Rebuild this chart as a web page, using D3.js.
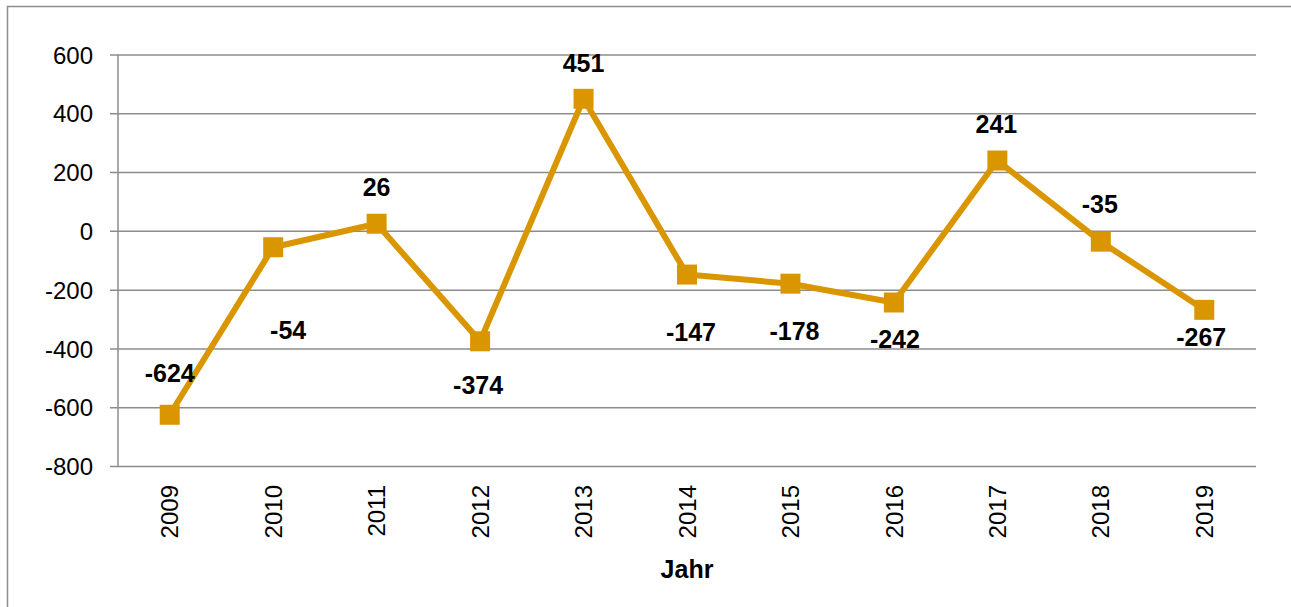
<!DOCTYPE html>
<html>
<head>
<meta charset="utf-8">
<script src="https://cdn.jsdelivr.net/npm/d3@7"></script>
<style>
  body { margin: 0; background: #fff; }
  svg text { font-family: "Liberation Sans", Arial, sans-serif; }
</style>
</head>
<body>
<div id="chart"><svg></svg></div>
<script>
// data
var years = ["2009", "2010", "2011", "2012", "2013", "2014", "2015", "2016", "2017", "2018", "2019"];
var values = [-624, -54, 26, -374, 451, -147, -178, -242, 241, -35, -267];
var yTicks = [-800, -600, -400, -200, 0, 200, 400, 600];

// where each value label sits relative to its marker (baseline offset)
var labelDx = [0, 15, 0, -2, 0, 4, 4, 1, -1, -1, -3];
var labelDy = [-33, 92, -28, 53, -27, 66, 56, 46, -28, -29, 36];

var width = 1291,
    height = 607,
    lineColor = "#da9600",
    gridColor = "#8c8c8c";

var svg = d3.select("#chart").select("svg")
    .attr("width", width)
    .attr("height", height);

// outer frame
svg.append("rect")
    .attr("x", 7.5).attr("y", 6.5)
    .attr("width", 1300).attr("height", 700)
    .attr("fill", "none")
    .attr("stroke", gridColor)
    .attr("stroke-width", 1.5);

var x = d3.scaleBand()
    .domain(years)
    .range([118, 1256]);

var y = d3.scaleLinear()
    .domain([-800, 600])
    .range([466.5, 55]);

// gridlines
svg.append("g")
    .selectAll("line")
    .data(yTicks)
    .enter()
        .append("line")
        .attr("x1", 110)
        .attr("x2", 1256)
        .attr("y1", d => y(d))
        .attr("y2", d => y(d))
        .attr("stroke", gridColor)
        .attr("stroke-width", 1.5);

// y axis line
svg.append("line")
    .attr("x1", 118).attr("x2", 118)
    .attr("y1", y(600)).attr("y2", y(-800))
    .attr("stroke", gridColor)
    .attr("stroke-width", 1.5);

// y tick labels
svg.append("g")
    .selectAll("text")
    .data(yTicks)
    .enter()
        .append("text")
        .attr("x", 93)
        .attr("y", d => y(d))
        .attr("dy", "0.36em")
        .attr("text-anchor", "end")
        .style("font-size", "24px")
        .style("fill", "#000")
        .text(d => d);

// x tick labels, rotated
svg.append("g")
    .selectAll("text")
    .data(years)
    .enter()
        .append("text")
        .attr("transform", d => "translate(" + (x(d) + x.bandwidth() / 2) + ",485) rotate(-90)")
        .attr("dy", "0.36em")
        .attr("text-anchor", "end")
        .style("font-size", "24px")
        .style("fill", "#000")
        .text(d => d);

// axis title
svg.append("text")
    .attr("x", 687)
    .attr("y", 578)
    .attr("text-anchor", "middle")
    .style("font-size", "25px")
    .style("font-weight", "bold")
    .style("fill", "#000")
    .text("Jahr");

var points = years.map((d, i) => ({ year: d, value: values[i], i: i }));

var line = d3.line()
    .x(d => x(d.year) + x.bandwidth() / 2)
    .y(d => y(d.value));

svg.append("path")
    .datum(points)
    .attr("d", line)
    .attr("fill", "none")
    .attr("stroke", lineColor)
    .attr("stroke-width", 6)
    .attr("stroke-linejoin", "round");

var markerSize = 20;
svg.append("g")
    .selectAll("rect")
    .data(points)
    .enter()
        .append("rect")
        .attr("x", d => x(d.year) + x.bandwidth() / 2 - markerSize / 2)
        .attr("y", d => y(d.value) - markerSize / 2)
        .attr("width", markerSize)
        .attr("height", markerSize)
        .attr("fill", lineColor);

// value labels
svg.append("g")
    .selectAll("text")
    .data(points)
    .enter()
        .append("text")
        .attr("x", d => x(d.year) + x.bandwidth() / 2 + labelDx[d.i])
        .attr("y", d => y(d.value) + labelDy[d.i])
        .attr("text-anchor", "middle")
        .style("font-size", "25px")
        .style("font-weight", "bold")
        .style("fill", "#000")
        .text(d => d.value);
</script>
</body>
</html>
